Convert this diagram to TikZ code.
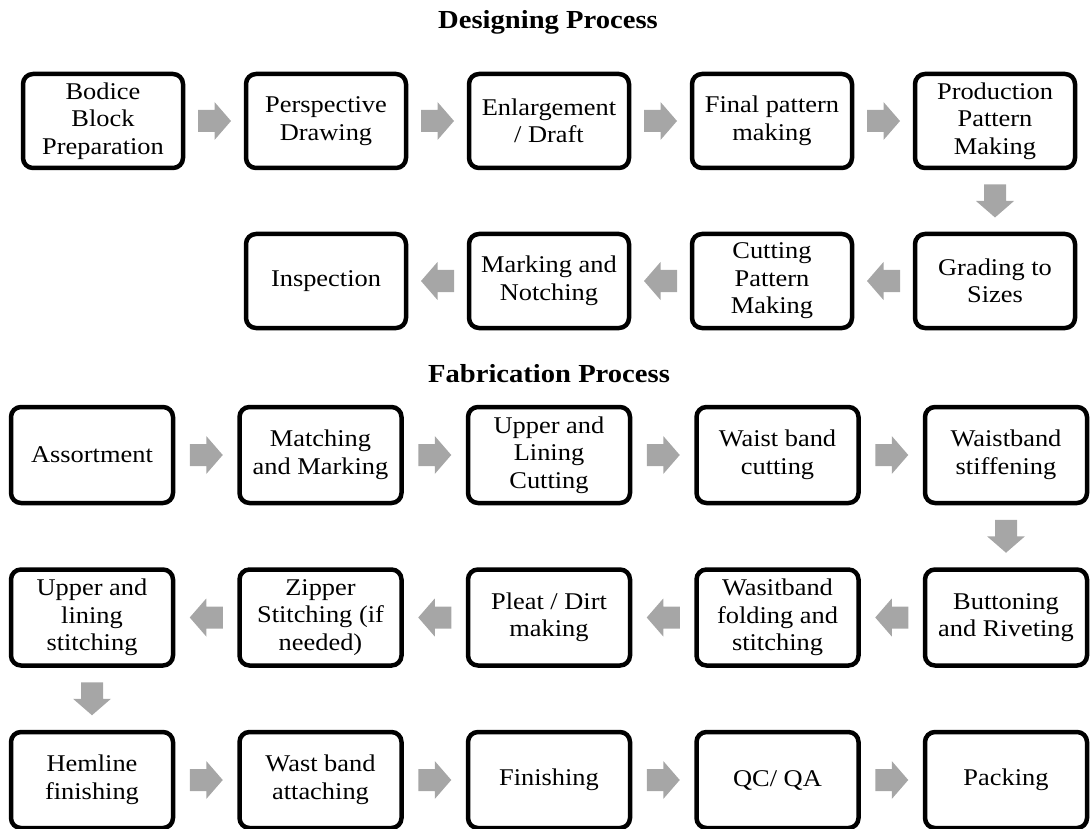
\documentclass[tikz,border=0pt]{standalone}
\usepackage{fontspec}
\setmainfont{Liberation Serif}[FakeStretch=1.1]
\usetikzlibrary{calc}
\definecolor{arrowgray}{HTML}{A6A6A6}
\tikzset{
  dbox/.style={draw=black, line width=4.5pt, rounded corners=10pt, minimum width=160pt, minimum height=94pt, inner sep=0pt, align=center, font=\fontsize{24}{27.5}\selectfont},
  fbox/.style={dbox, minimum width=162pt, minimum height=96pt},
  blockarrow/.pic={\fill[arrowgray] (-16.5,-11) -- (0,-11) -- (0,-19) -- (16.5,0) -- (0,19) -- (0,11) -- (-16.5,11) -- cycle;},
  title/.style={font=\bfseries\fontsize{26}{30}\selectfont, anchor=base}
}
\begin{document}
\begin{tikzpicture}[x=1pt,y=-1pt]
\useasboundingbox (0,0) rectangle (1090,829);
% titles
\node[title] (t1) at (548,29) {Designing Process};
\node[title] (t2) at (549,382) {Fabrication Process};
% designing row 1
\node[dbox] (d1) at (103,121) {Bodice\\Block\\Preparation};
\node[dbox] (d2) at (326,121) {Perspective\\Drawing};
\node[dbox] (d3) at (549,121) {Enlargement\\/ Draft};
\node[dbox] (d4) at (772,121) {Final pattern\\making};
\node[dbox] (d5) at (995,121) {Production\\Pattern\\Making};
% designing row 2
\node[dbox] (d6) at (995,281) {Grading to\\Sizes};
\node[dbox] (d7) at (772,281) {Cutting\\Pattern\\Making};
\node[dbox] (d8) at (549,281) {Marking and\\Notching};
\node[dbox] (d9) at (326,281) {Inspection};
% designing arrows
\pic (a1) at ($(d1.east)!0.5!(d2.west)$) {blockarrow};
\pic (a2) at ($(d2.east)!0.5!(d3.west)$) {blockarrow};
\pic (a3) at ($(d3.east)!0.5!(d4.west)$) {blockarrow};
\pic (a4) at ($(d4.east)!0.5!(d5.west)$) {blockarrow};
\pic[rotate=-90] (a5) at ($(d5.south)!0.5!(d6.north)$) {blockarrow};
\pic[rotate=180] (a6) at ($(d6.west)!0.5!(d7.east)$) {blockarrow};
\pic[rotate=180] (a7) at ($(d7.west)!0.5!(d8.east)$) {blockarrow};
\pic[rotate=180] (a8) at ($(d8.west)!0.5!(d9.east)$) {blockarrow};
% fabrication row 1
\node[fbox] (f1) at (92,455) {Assortment};
\node[fbox] (f2) at (320.5,455) {Matching\\and Marking};
\node[fbox] (f3) at (549,455) {Upper and\\Lining\\Cutting};
\node[fbox] (f4) at (777.5,455) {Waist band\\cutting};
\node[fbox] (f5) at (1006,455) {Waistband\\stiffening};
% fabrication row 2
\node[fbox] (f6) at (1006,617.5) {Buttoning\\and Riveting};
\node[fbox] (f7) at (777.5,617.5) {Wasitband\\folding and\\stitching};
\node[fbox] (f8) at (549,617.5) {Pleat / Dirt\\making};
\node[fbox] (f9) at (320.5,617.5) {Zipper\\Stitching (if\\needed)};
\node[fbox] (f10) at (92,617.5) {Upper and\\lining\\stitching};
% fabrication row 3
\node[fbox] (f11) at (92,780) {Hemline\\finishing};
\node[fbox] (f12) at (320.5,780) {Wast band\\attaching};
\node[fbox] (f13) at (549,780) {Finishing};
\node[fbox] (f14) at (777.5,780) {QC/ QA};
\node[fbox] (f15) at (1006,780) {Packing};
% fabrication arrows
\pic (b1) at ($(f1.east)!0.5!(f2.west)$) {blockarrow};
\pic (b2) at ($(f2.east)!0.5!(f3.west)$) {blockarrow};
\pic (b3) at ($(f3.east)!0.5!(f4.west)$) {blockarrow};
\pic (b4) at ($(f4.east)!0.5!(f5.west)$) {blockarrow};
\pic[rotate=-90] (b5) at ($(f5.south)!0.5!(f6.north)$) {blockarrow};
\pic[rotate=180] (b6) at ($(f6.west)!0.5!(f7.east)$) {blockarrow};
\pic[rotate=180] (b7) at ($(f7.west)!0.5!(f8.east)$) {blockarrow};
\pic[rotate=180] (b8) at ($(f8.west)!0.5!(f9.east)$) {blockarrow};
\pic[rotate=180] (b9) at ($(f9.west)!0.5!(f10.east)$) {blockarrow};
\pic[rotate=-90] (b10) at ($(f10.south)!0.5!(f11.north)$) {blockarrow};
\pic (b11) at ($(f11.east)!0.5!(f12.west)$) {blockarrow};
\pic (b12) at ($(f12.east)!0.5!(f13.west)$) {blockarrow};
\pic (b13) at ($(f13.east)!0.5!(f14.west)$) {blockarrow};
\pic (b14) at ($(f14.east)!0.5!(f15.west)$) {blockarrow};
\end{tikzpicture}
\end{document}
